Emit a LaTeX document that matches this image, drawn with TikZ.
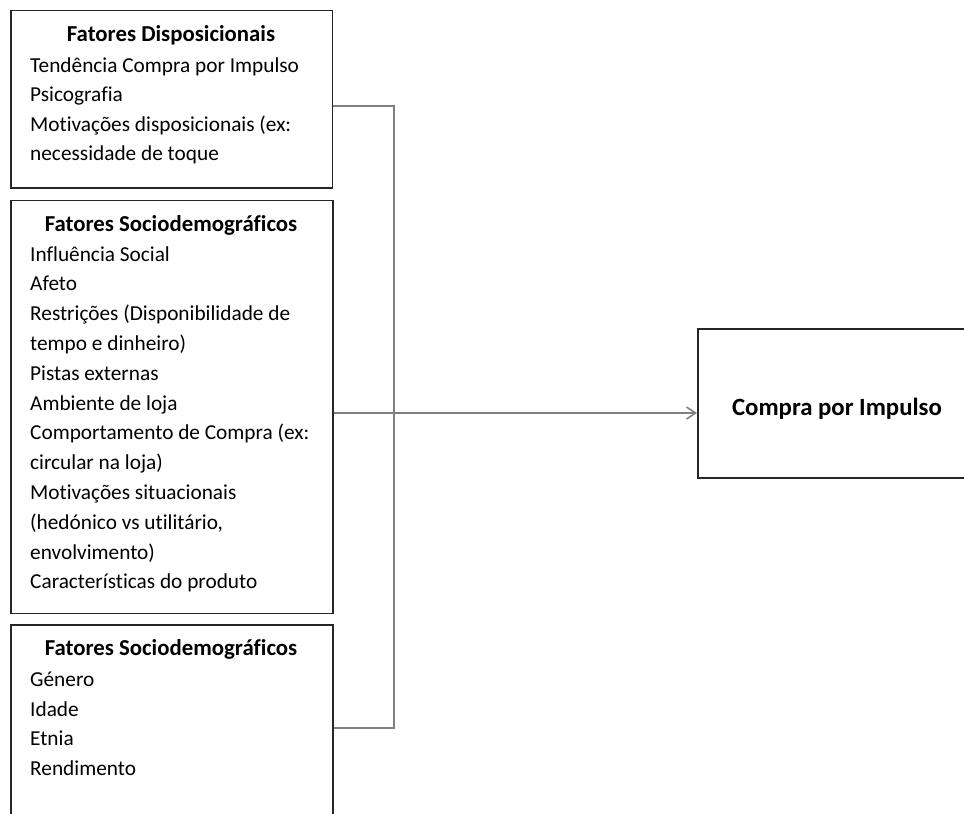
\documentclass[tikz,border=0pt]{standalone}
\usepackage{fontspec}
\setmainfont{Carlito}[Ligatures={NoCommon}]
\usetikzlibrary{arrows.meta,calc}
\begin{document}
\begin{tikzpicture}[x=1pt,y=-1pt,
  box/.style={draw=black!85, line width=1.6pt, inner sep=0pt, anchor=north west},
  conn/.style={draw=black!50, line width=1.8pt},
  txt/.style={anchor=base west, inner sep=0pt, font=\fontsize{21.3}{26}\selectfont},
  ttl/.style={anchor=base, inner sep=0pt, font=\fontsize{22.8}{26}\selectfont\bfseries},
  bigttl/.style={anchor=base, inner sep=0pt, font=\fontsize{24.8}{28}\selectfont\bfseries}]
\useasboundingbox (0,0) rectangle (964,814);
\clip (0,0) rectangle (964,814);
% boxes
\node[box, minimum width=321.5pt, minimum height=177.5pt] (b1) at (10,9.5) {};
\node[box, minimum width=322pt, minimum height=413pt] (b2) at (10,199.5) {};
\node[box, minimum width=322pt, minimum height=210pt] (b3) at (10,624) {};
\node[box, minimum width=290pt, minimum height=149pt] (out) at (697,328) {};
% titles
\node[ttl] (b1t) at (171,41) {Fatores Disposicionais};
\node[ttl] (b2t) at (171,231.5) {Fatores Sociodemográficos};
\node[ttl] (b3t) at (171,655) {Fatores Sociodemográficos};
\node[bigttl] (outt) at (837,415) {Compra por Impulso};
% lines
\foreach \t [count=\i from 0] in {Tendência Compra por Impulso, Psicografia, Motivações disposicionais (ex:, necessidade de toque}
  \node[txt] (b1l\i) at (30,72+29.5*\i) {\t};
\foreach \t [count=\i from 0] in {Influência Social, Afeto, Restrições (Disponibilidade de, tempo e dinheiro), Pistas externas, Ambiente de loja, Comportamento de Compra (ex:, circular na loja), Motivações situacionais, {(hedónico vs utilitário,}, envolvimento), Características do produto}
  \node[txt] (b2l\i) at (30,261+29.8*\i) {\t};
\foreach \t [count=\i from 0] in {Género, Idade, Etnia, Rendimento}
  \node[txt] (b3l\i) at (30,686.5+29.5*\i) {\t};
% connectors
\coordinate (j1) at (394,106);
\coordinate (j2) at (394,728);
\coordinate (arow) at (0,413);
\draw[conn] (b1.east |- j1) -- (j1) -- (j2) -- (b3.east |- j2);
\draw[conn, -{Straight Barb[length=9pt,width=12pt,line width=1.6pt]}] (b2.east |- arow) -- (out.west |- arow);
\end{tikzpicture}
\end{document}
